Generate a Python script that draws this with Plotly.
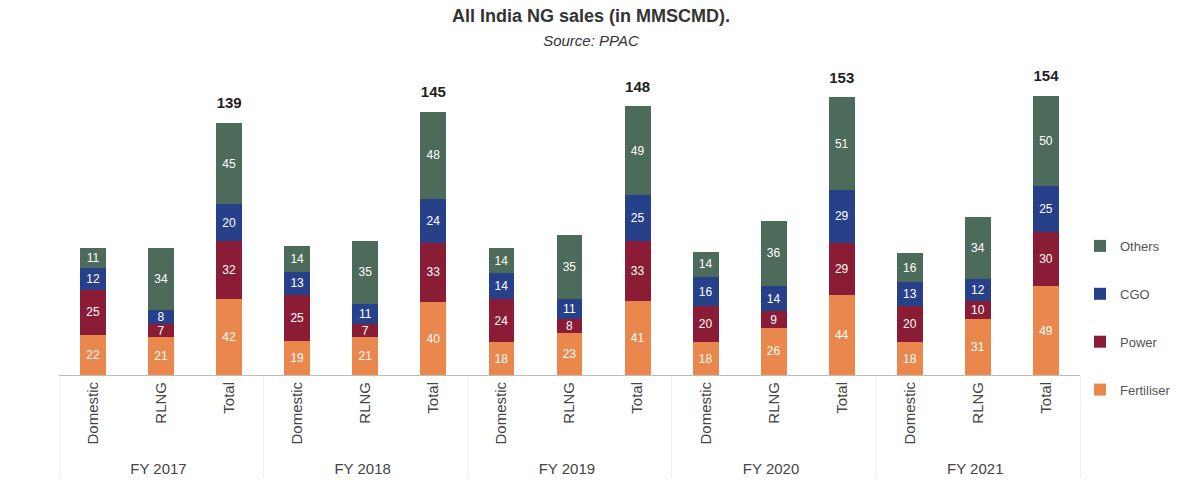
import plotly.graph_objects as go

years = ["FY 2017", "FY 2018", "FY 2019", "FY 2020", "FY 2021"]
types = ["Domestic", "RLNG", "Total"]

# values in order: for each year, Domestic, RLNG, Total
fertiliser = [22, 21, 42, 19, 21, 40, 18, 23, 41, 18, 26, 44, 18, 31, 49]
power      = [25, 7, 32, 25, 7, 33, 24, 8, 33, 20, 9, 29, 20, 10, 30]
cgo        = [12, 8, 20, 13, 11, 24, 14, 11, 25, 16, 14, 29, 13, 12, 25]
others     = [11, 34, 45, 14, 35, 48, 14, 35, 49, 14, 36, 51, 16, 34, 50]

series = [
    ("Fertiliser", fertiliser, "#e9874c", 4),
    ("Power", power, "#8a1d35", 3),
    ("CGO", cgo, "#26418a", 2),
    ("Others", others, "#4c6b5b", 1),
]

x_outer = [y for y in years for _ in types]
x_inner = [t for _ in years for t in types]

fig = go.Figure()
for name, vals, col, rank in series:
    fig.add_trace(go.Bar(
        x=[x_outer, x_inner], y=vals, name=name,
        marker=dict(color=col, line=dict(width=0)),
        text=[str(v) for v in vals], textposition="inside",
        insidetextanchor="middle", textangle=0,
        textfont=dict(color="white", size=12, family="Liberation Sans, Arial"),
        legendgroup=name, legendrank=rank,
    ))

totals = [f + p + c + o for f, p, c, o in zip(fertiliser, power, cgo, others)]
tx_outer = [x_outer[i] for i in range(len(totals)) if x_inner[i] == "Total"]
tx_inner = [x_inner[i] for i in range(len(totals)) if x_inner[i] == "Total"]
ty = [totals[i] for i in range(len(totals)) if x_inner[i] == "Total"]
fig.add_trace(go.Scatter(
    x=[tx_outer, tx_inner], y=ty, mode="markers+text",
    marker=dict(size=16, opacity=0),
    text=["<b>%d</b>" % v for v in ty],
    textposition="top center",
    textfont=dict(color="#222222", size=15, family="Liberation Sans, Arial"),
    showlegend=False, cliponaxis=False, hoverinfo="skip",
))

fig.update_layout(
    barmode="stack",
    bargap=0.62,
    width=1189, height=496,
    margin=dict(l=59, r=109, t=81, b=121),
    paper_bgcolor="white", plot_bgcolor="white",
    font=dict(family="Liberation Sans, Arial", color="#444444"),
    title=dict(
        text="<b>All India NG sales (in MMSCMD).</b><br><span style='font-size:15px'><i>Source: PPAC</i></span>",
        x=0.497, xanchor="center", y=0.955, yanchor="top",
        font=dict(size=18, color="#333333"),
    ),
    legend=dict(
        traceorder="grouped", x=1.0, xanchor="left", y=0.49, yanchor="top",
        font=dict(size=13, color="#555555"), tracegroupgap=28,
        itemwidth=30, bgcolor="rgba(0,0,0,0)",
    ),
    uniformtext=dict(minsize=12, mode="show"),
    showlegend=True,
)
fig.update_xaxes(
    type="multicategory", tickangle=-90, showline=True, linecolor="#bbbbbb",
    linewidth=1, ticks="", showdividers=True, dividercolor="#eeeeee",
    dividerwidth=1, tickfont=dict(size=15, color="#444444"), showgrid=False,
    range=[-0.5, len(x_inner) - 0.5],
)
fig.update_yaxes(visible=False, range=[0, 162], showgrid=False)

fig.write_html("out.html")
